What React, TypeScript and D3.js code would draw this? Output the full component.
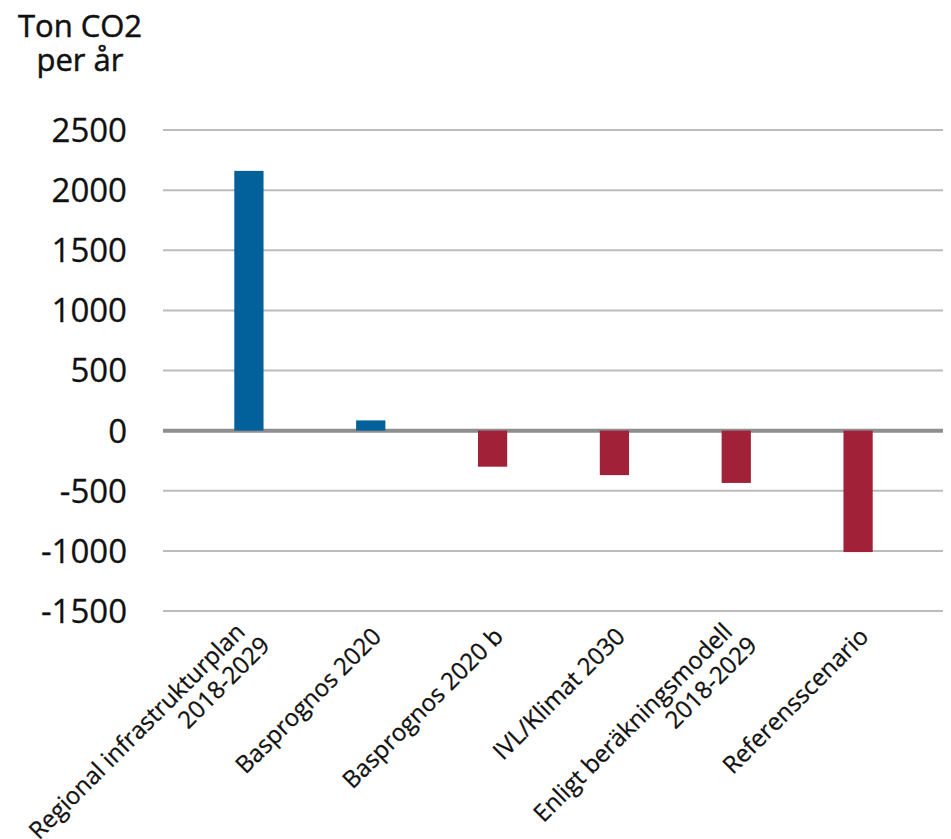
import { useEffect, useRef } from 'react'
import * as d3 from 'd3'

const categories = [
  ['Regional infrastrukturplan', '2018-2029'],
  ['Basprognos 2020'],
  ['Basprognos 2020 b'],
  ['IVL/Klimat 2030'],
  ['Enligt beräkningsmodell', '2018-2029'],
  ['Referensscenario'],
]
const values = [2160, 85, -300, -370, -435, -1010]
const yTicks = [2500, 2000, 1500, 1000, 500, 0, -500, -1000, -1500]
const titleLines = ['Ton CO2', 'per år']

const BLUE = '#02619a'
const RED = '#a12138'
const INK = '#111'
const FONT = '"Open Sans", "Noto Sans", sans-serif'

export default function App() {
  const svgRef = useRef<SVGSVGElement>(null)
  const width = 951
  const height = 839

  useEffect(() => {
    if (!svgRef.current) return
    const svg = d3.select(svgRef.current)
    svg.selectAll('*').remove()

    const y = d3.scaleLinear().domain([-1500, 2500]).range([611, 130])
    const x = d3.scaleBand<number>()
      .domain(d3.range(categories.length))
      .range([188, 919])
      .paddingInner(0.76)
      .paddingOuter(0.38)

    // Title, one text per line
    svg.append('g')
      .selectAll('text')
      .data(titleLines)
      .enter()
      .append('text')
      .attr('x', 80)
      .attr('y', (d, i) => 37 + i * 34)
      .attr('text-anchor', 'middle')
      .attr('font-family', FONT)
      .attr('font-size', 31)
      .attr('fill', INK)
      .attr('stroke', INK)
      .attr('stroke-width', 0.5)
      .text(d => d)

    // Gridlines
    svg.append('g')
      .selectAll('line')
      .data(yTicks.filter(t => t !== 0))
      .enter()
      .append('line')
      .attr('x1', 163)
      .attr('x2', 943)
      .attr('y1', d => y(d))
      .attr('y2', d => y(d))
      .attr('stroke', '#bcbcbc')
      .attr('stroke-width', 2)

    // Zero line
    svg.append('line')
      .attr('x1', 163)
      .attr('x2', 943)
      .attr('y1', y(0))
      .attr('y2', y(0))
      .attr('stroke', '#8e8e8e')
      .attr('stroke-width', 4)

    // Y tick labels
    svg.append('g')
      .selectAll('text')
      .data(yTicks)
      .enter()
      .append('text')
      .attr('x', 127)
      .attr('y', d => y(d))
      .attr('dy', '0.36em')
      .attr('text-anchor', 'end')
      .attr('font-family', FONT)
      .attr('font-size', 33)
      .attr('fill', INK)
      .attr('stroke', INK)
      .attr('stroke-width', 0.3)
      .text(d => d)

    // Bars
    svg.append('g')
      .selectAll('rect')
      .data(values)
      .enter()
      .append('rect')
      .attr('x', (d, i) => x(i)!)
      .attr('width', x.bandwidth())
      .attr('y', d => y(Math.max(0, d)))
      .attr('height', d => Math.abs(y(d) - y(0)))
      .attr('fill', d => (d >= 0 ? BLUE : RED))

    // X labels, rotated -45
    const labels = svg.append('g')
      .selectAll('g')
      .data(categories)
      .enter()
      .append('g')
      .attr('transform', (d, i) => `translate(${x(i)! + x.bandwidth() / 2 + 6},${632}) rotate(-45)`)

    labels.append('text')
      .attr('text-anchor', 'end')
      .attr('font-family', FONT)
      .attr('font-size', 24)
      .attr('fill', INK)
      .attr('stroke', INK)
      .attr('stroke-width', 0.3)
      .selectAll('tspan')
      .data(d => d.map((line, j) => ({ line, j, n: d.length })))
      .enter()
      .append('tspan')
      .attr('x', d => (d.n > 1 ? -7 : 0) + (d.j > 0 ? 8 : 0))
      .attr('y', d => (d.j - (d.n - 1) / 2) * 27)
      .attr('dy', '0.35em')
      .text(d => d.line)
  }, [])

  return (
    <svg
      ref={svgRef}
      width={width}
      height={height}
      style={{ position: 'absolute', left: 0, top: 0, background: '#fff' }}
    />
  )
}
